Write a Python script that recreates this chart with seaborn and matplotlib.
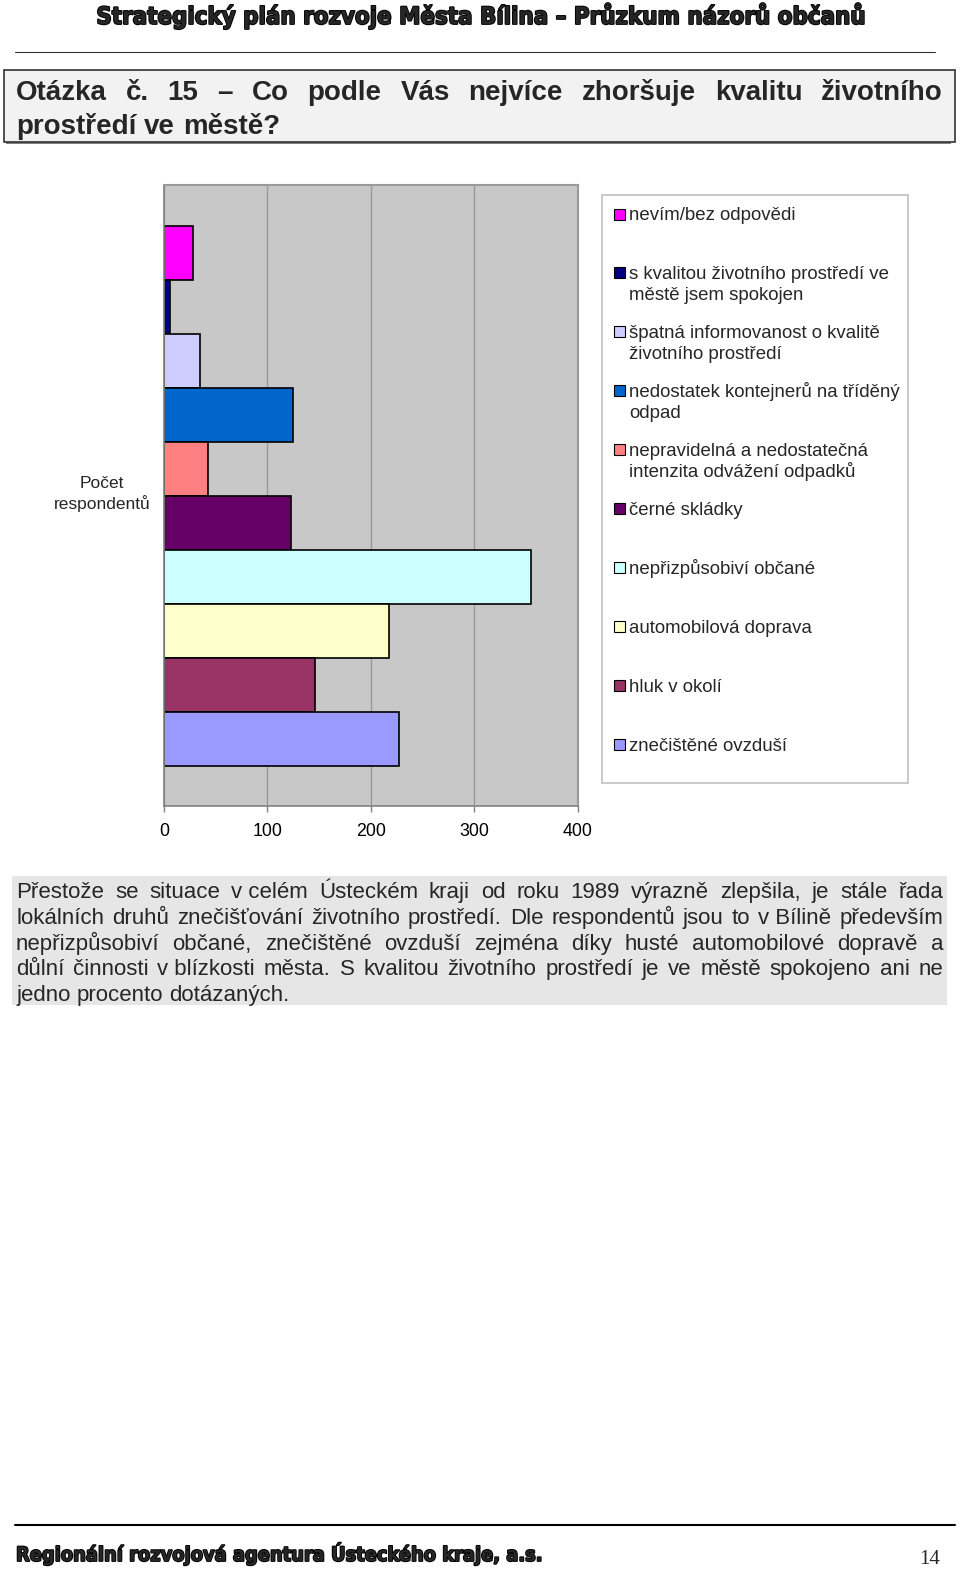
import matplotlib
matplotlib.use('Agg')
import matplotlib.pyplot as plt
import matplotlib.patheffects as pe
import seaborn as sns
import pandas as pd
from matplotlib.patches import Rectangle
from matplotlib.lines import Line2D

# ---------------- data ----------------
categories = [
    "nevím/bez odpovědi",
    "s kvalitou životního prostředí ve městě jsem spokojen",
    "špatná informovanost o kvalitě životního prostředí",
    "nedostatek kontejnerů na tříděný odpad",
    "nepravidelná a nedostatečná intenzita odvážení odpadků",
    "černé skládky",
    "nepřizpůsobiví občané",
    "automobilová doprava",
    "hluk v okolí",
    "znečištěné ovzduší",
]
legend_lines = [
    ["nevím/bez odpovědi"],
    ["s kvalitou životního prostředí ve", "městě jsem spokojen"],
    ["špatná informovanost o kvalitě", "životního prostředí"],
    ["nedostatek kontejnerů na tříděný", "odpad"],
    ["nepravidelná a nedostatečná", "intenzita odvážení odpadků"],
    ["černé skládky"],
    ["nepřizpůsobiví občané"],
    ["automobilová doprava"],
    ["hluk v okolí"],
    ["znečištěné ovzduší"],
]
values = [28, 6, 35, 125, 43, 123, 355, 218, 146, 227]
colors = ["#FF00FF", "#000080", "#CCCCFF", "#0066CC", "#FF8080",
          "#660066", "#CCFFFF", "#FFFFCC", "#993366", "#9999FF"]
x_ticks = [0, 100, 200, 300, 400]

header = "Strategický plán rozvoje Města Bílina – Průzkum názorů občanů"
footer = "Regionální rozvojová agentura Ústeckého kraje, a.s."
page_no = "14"
question_lines = ["Otázka č. 15 – Co podle Vás nejvíce zhoršuje kvalitu životního",
                  "prostředí ve městě?"]
para_lines = [
    "Přestože se situace v\u00a0celém Ústeckém kraji od roku 1989 výrazně zlepšila, je stále řada",
    "lokálních druhů znečišťování životního prostředí. Dle respondentů jsou to v\u00a0Bílině především",
    "nepřizpůsobiví občané, znečištěné ovzduší zejména díky husté automobilové dopravě a",
    "důlní činnosti v\u00a0blízkosti města. S kvalitou životního prostředí je ve městě spokojeno ani ne",
    "jedno procento dotázaných.",
]
ylabel = "Počet\nrespondentů"

# ---------------- setup ----------------
sns.set_theme(style="white")
plt.rcParams['font.family'] = ['Liberation Sans', 'DejaVu Sans']

W, H = 960, 1570
fig = plt.figure(figsize=(W / 100, H / 100), dpi=100)
fig.patch.set_facecolor("white")


def fx(px):
    return px / W


def fy(py):
    return 1 - py / H


renderer = fig.canvas.get_renderer()


def fit_text(x, y, s, width_px, ha='center', **kw):
    t = fig.text(fx(x), fy(y), s, ha=ha, va='baseline', fontsize=20, **kw)
    w = t.get_window_extent(renderer).width
    t.set_fontsize(20 * width_px / w)
    return t


def justify(lines, x0, x1, y0, spacing, fontsize, **kw):
    for li, line in enumerate(lines):
        words = line.split(' ')
        y = fy(y0 + li * spacing)
        texts = [fig.text(0, y, w, fontsize=fontsize, va='baseline', ha='left', **kw) for w in words]
        widths = [t.get_window_extent(renderer).width for t in texts]
        if li == len(lines) - 1 or len(words) == 1:
            gap = fontsize * 100 / 72 * 0.278
        else:
            gap = (x1 - x0 - sum(widths)) / (len(words) - 1)
        x = x0
        for t, w in zip(texts, widths):
            t.set_x(fx(x))
            x += w + gap


heavy = [pe.withStroke(linewidth=1.3, foreground='black')]

# ---------------- page header ----------------
fit_text(480, 24, header, 770, family=['DejaVu Sans'], fontweight='heavy',
         fontstretch='condensed', path_effects=heavy)
fig.add_artist(Line2D([fx(15), fx(935)], [fy(52), fy(52)], color='#333333', lw=0.8))

# question box
fig.add_artist(Rectangle((fx(6), fy(144)), fx(951) - fx(6), fy(72) - fy(144), transform=fig.transFigure,
                         facecolor='#808080', edgecolor='none'))
fig.add_artist(Rectangle((fx(4), fy(142)), fx(955) - fx(4), fy(70) - fy(142), transform=fig.transFigure,
                         facecolor='#F2F2F2', edgecolor='#333333', lw=1.2))
justify(question_lines, 16, 943, 100.5, 33, 20, fontweight='bold')

# ---------------- chart ----------------
ax = fig.add_axes([fx(164), fy(806), (577.7 - 164) / W, (806 - 185) / H])
df = pd.DataFrame({"kategorie": categories, "pocet": values})
sns.barplot(data=df, x="pocet", y="kategorie", hue="kategorie",
            palette=dict(zip(categories, colors)), dodge=False, width=1.0,
            edgecolor="black", linewidth=1.2, saturation=1, legend=False, ax=ax)
ax.set_facecolor("#C8C8C8")
ax.set_xlim(0, 400)
ax.set_ylim(10.24, -1.26)
ax.set_xticks(x_ticks)
ax.set_xticklabels([str(v) for v in x_ticks])
ax.xaxis.grid(True, color="#999999", lw=1)
ax.yaxis.grid(False)
ax.set_axisbelow(True)
ax.set_yticks([])
ax.set_xlabel("")
ax.set_ylabel("")
for side in ["left", "bottom"]:
    ax.spines[side].set_color("#808080")
    ax.spines[side].set_linewidth(1.2)
for side in ["top", "right"]:
    ax.spines[side].set_color("#9A9A9A")
    ax.spines[side].set_linewidth(1.5)
ax.tick_params(axis='x', bottom=True, length=4, width=1, color="#808080",
               labelsize=12.8, pad=8, labelcolor='black')

fig.text(fx(102), fy(494), ylabel, ha='center', va='center', fontsize=12.5, linespacing=1.25)

# legend
fig.add_artist(Rectangle((fx(602), fy(783)), fx(908) - fx(602), fy(195) - fy(783), transform=fig.transFigure,
                         facecolor='white', edgecolor='#C0C0C0', lw=1.2))
for i, (lines, col) in enumerate(zip(legend_lines, colors)):
    yc = 214 + 58.9 * i
    fig.add_artist(Rectangle((fx(614), fy(yc + 5.5)), fx(11), 11 / H, transform=fig.transFigure,
                             facecolor=col, edgecolor='black', lw=0.8))
    for k, ln in enumerate(lines):
        fig.text(fx(629), fy(yc + 6.5 + 21 * k), ln, ha='left', va='baseline', fontsize=13.4)

# ---------------- paragraph ----------------
fig.add_artist(Rectangle((fx(12), fy(1005)), fx(947) - fx(12), fy(876) - fy(1005), transform=fig.transFigure,
                         facecolor='#E6E6E6', edgecolor='none'))
justify(para_lines, 16, 943, 898, 25.8, 16)

# ---------------- footer ----------------
fig.add_artist(Line2D([fx(15), fx(955)], [fy(1525), fy(1525)], color='black', lw=1.5))
fit_text(16, 1561, footer, 527, ha='left', family=['DejaVu Sans'], fontweight='heavy',
         fontstretch='condensed', path_effects=heavy)
fig.text(fx(930), fy(1564), page_no, ha='center', va='baseline', fontsize=15, family=['Liberation Serif'])

fig.savefig("out.png", dpi=100, facecolor='white')
